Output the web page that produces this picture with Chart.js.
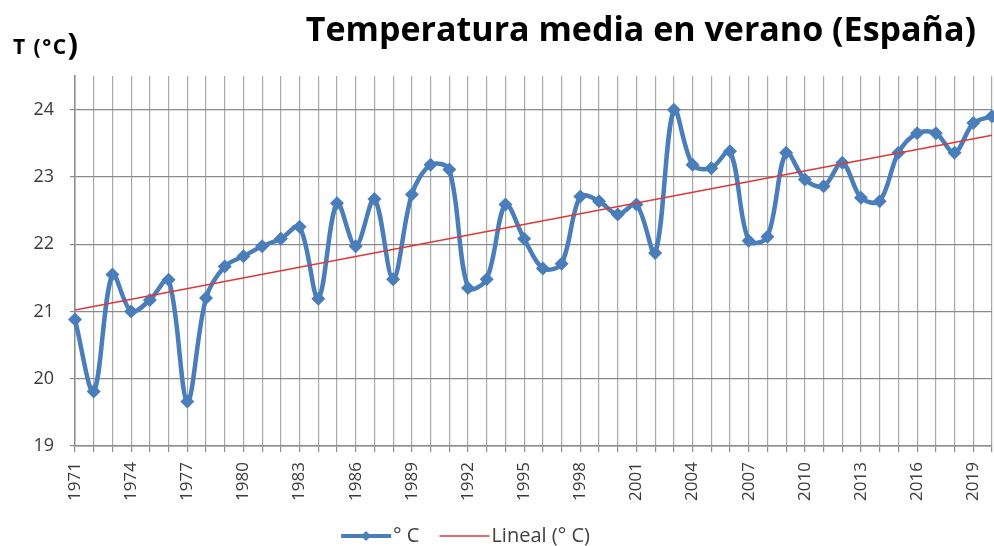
<!DOCTYPE html>
<html>
<head>
<meta charset="utf-8">
<script src="https://cdn.jsdelivr.net/npm/chart.js@4.4.1/dist/chart.umd.min.js"></script>
<style>
  html, body { margin: 0; padding: 0; background: #fff; }
  #wrap { width: 994px; height: 546px; position: relative; }
</style>
</head>
<body>
<div id="wrap"><canvas id="chart"></canvas></div>
<script>
// datos
const years = ['1971','1972','1973','1974','1975','1976','1977','1978','1979','1980',
  '1981','1982','1983','1984','1985','1986','1987','1988','1989','1990',
  '1991','1992','1993','1994','1995','1996','1997','1998','1999','2000',
  '2001','2002','2003','2004','2005','2006','2007','2008','2009','2010',
  '2011','2012','2013','2014','2015','2016','2017','2018','2019','2020'];

const tempVerano = [20.88, 19.81, 21.55, 21.00, 21.17, 21.47, 19.66, 21.20, 21.67, 21.82,
  21.97, 22.08, 22.26, 21.19, 22.61, 21.97, 22.67, 21.48, 22.74, 23.18,
  23.11, 21.35, 21.48, 22.59, 22.08, 21.64, 21.71, 22.71, 22.64, 22.44,
  22.59, 21.87, 24.00, 23.18, 23.13, 23.38, 22.05, 22.11, 23.36, 22.96,
  22.86, 23.21, 22.69, 22.64, 23.36, 23.65, 23.65, 23.36, 23.80, 23.90];

// línea de tendencia (valores en los extremos)
const tendencia = [21.02, 23.62];

const yTicks = [19, 20, 21, 22, 23, 24];

const AZUL = '#4a7ebb';
const ROJO = '#dc3a3a';

function icono(color, grosor, rombo) {
  const c = document.createElement('canvas');
  c.width = 54; c.height = 16;
  const g = c.getContext('2d');
  g.strokeStyle = color; g.lineWidth = grosor;
  g.beginPath(); g.moveTo(2, 8); g.lineTo(52, 8); g.stroke();
  if (rombo) {
    g.fillStyle = color;
    g.beginPath(); g.moveTo(27, 3); g.lineTo(32, 8); g.lineTo(27, 13); g.lineTo(22, 8); g.closePath(); g.fill();
  }
  return c;
}
const iconos = [icono(AZUL, 4, true), icono(ROJO, 1.5, false)];

const lineaTendencia = years.map((y, i) => i === 0 ? tendencia[0] : (i === years.length - 1 ? tendencia[1] : null));

const sinPadding = () => ({ left: 0, top: 0, right: 0, bottom: 0 });

const textos = {
  id: 'textos',
  afterLayout(chart) {
    // leyenda algo más abajo y a la izquierda, como en el original
    const lg = chart.legend;
    lg.right -= 53;
    lg.top += 10;
    lg.bottom += 10;
  },
  afterDraw(chart) {
    const ctx = chart.ctx;
    ctx.save();
    ctx.fillStyle = '#000';
    ctx.textBaseline = 'middle';
    ctx.textAlign = 'right';
    ctx.font = 'bold 34px "Open Sans"';
    ctx.fillText('Temperatura media en verano (España)', 976, 31);
    ctx.textAlign = 'left';
    ctx.font = 'bold 21px "Open Sans"';
    ctx.letterSpacing = '1.5px';
    const ejeY = 'T (°C';
    ctx.fillText(ejeY, 13, 48);
    const w = ctx.measureText(ejeY).width;
    ctx.letterSpacing = '0px';
    ctx.font = 'bold 31px "Open Sans"';
    ctx.fillText(')', 13 + w, 46);
    ctx.restore();
  }
};

new Chart(document.getElementById('chart'), {
  type: 'line',
  data: {
    labels: years,
    datasets: [{
      label: '° C',
      data: tempVerano,
      borderColor: AZUL,
      backgroundColor: AZUL,
      borderWidth: 4.5,
      tension: 0.33,
      pointStyle: 'rectRot',
      pointRadius: 7,
      pointBorderWidth: 0,
      clip: false,
      order: 1
    }, {
      label: 'Lineal (° C)',
      data: lineaTendencia,
      borderColor: ROJO,
      borderWidth: 1.5,
      pointRadius: 0,
      spanGaps: true,
      tension: 0,
      order: 0
    }]
  },
  options: {
    responsive: true,
    maintainAspectRatio: false,
    animation: false,
    layout: { autoPadding: false, padding: { top: 76, right: 2, left: 0, bottom: 0 } },
    scales: {
      x: {
        type: 'category',
        offset: false,
        afterFit: ax => {
          ax.height = 42;
          ax.paddingLeft = 0;
          ax.paddingRight = 0;
          ax.getPadding = sinPadding;
          ax._computeLabelArea = () => undefined; // etiquetas sin recorte
        },
        grid: {
          color: '#a9a9a9',
          lineWidth: 1.2,
          tickLength: 6,
          tickColor: '#8c8c8c'
        },
        border: { color: '#8c8c8c', width: 1.5 },
        ticks: {
          autoSkip: false,
          minRotation: 90,
          maxRotation: 90,
          padding: 10,
          color: '#3a3a3a',
          font: { family: 'Open Sans', size: 17 },
          callback(v, i) { return i % 3 === 0 ? this.getLabelForValue(v) : ''; }
        }
      },
      y: {
        min: 19,
        max: 24.5,
        afterBuildTicks: ax => { ax.ticks = yTicks.map(v => ({ value: v })); },
        afterFit: ax => { ax.width = 75; ax.getPadding = sinPadding; },
        grid: { color: '#8a8a8a', lineWidth: 1.2, tickLength: 5 },
        border: { color: '#8c8c8c', width: 1.5 },
        ticks: {
          padding: 16,
          color: '#3a3a3a',
          font: { family: 'Open Sans', size: 18 }
        }
      }
    },
    plugins: {
      title: { display: false },
      tooltip: { enabled: false },
      legend: {
        position: 'bottom',
        labels: {
          usePointStyle: true,
          pointStyleWidth: 34,
          padding: 28,
          color: '#404040',
          font: { family: 'Open Sans', size: 20 },
          generateLabels: chart => chart.data.datasets.map((ds, i) => ({
            text: ds.label,
            pointStyle: iconos[i],
            datasetIndex: i,
            fillStyle: ds.borderColor,
            strokeStyle: ds.borderColor,
            lineWidth: 0,
            fontColor: '#404040'
          }))
        }
      }
    }
  },
  plugins: [textos]
});
</script>
</body>
</html>
